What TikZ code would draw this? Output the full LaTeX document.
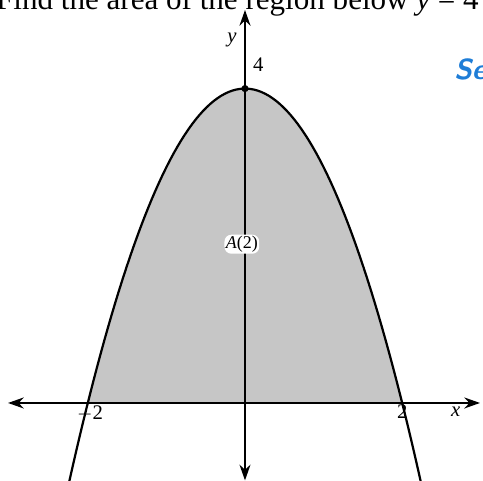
\documentclass[tikz,border=0pt]{standalone}
\usepackage{fontspec}
\setmainfont{Liberation Serif}
\usetikzlibrary{arrows.meta, positioning}
\definecolor{inkblue}{RGB}{30,125,215}
\tikzset{
	axis/.style={line width=1.3pt, {Stealth[length=4mm, width=2.8mm]}-{Stealth[length=4mm, width=2.8mm]}},
	curve/.style={line width=1.6pt},
	region/.style={fill=gray!45},
	lbl/.style={font=\fontsize{15}{15}\selectfont, inner sep=1pt},
	title/.style={font=\fontsize{22.5}{22.5}\selectfont, inner sep=0pt, anchor=base west}
}

\begin{document}
\begin{tikzpicture}[x=2cm, y=2cm]
        \clip (-3.117,-0.980) rectangle (3.028,5.127);

        % shaded region under the parabola
        \fill[region] plot[domain=-2:2, samples=80] (\x,{4-\x*\x}) -- cycle;

        \coordinate (xl) at (-3.015,0);
        \coordinate (xr) at (2.99,0);
        \coordinate (yb) at (0,-0.985);
        \coordinate (yt) at (0,5.0);
        \draw[axis] (xl) -- (xr);
        \draw[axis] (yb) -- (yt);

        \draw[curve] plot[domain=-2.3:2.3, samples=100] (\x,{4-\x*\x});
        \fill (0,4) circle (2.6pt);

        \node[lbl] (ylab) at (-0.165,4.62) {\textit{y}};
        \node[lbl] (four) at (0.17,4.30) {4};
        \node[lbl] (xlab) at (2.68,-0.11) {\textit{x}};
        \node[lbl] (mtwo) at (-1.97,-0.13) {$-$2};
        \node[lbl] (two) at (2.0,-0.11) {2};
        \node[lbl, font=\fontsize{13}{13}\selectfont, fill=white, rounded corners=5pt] (area) at (-0.04,2.02) {\textit{A}(2)};

        \node[title] (task) at (-3.17,5.01) {Find the area of the region below \textit{y} = 4 $-$};
        \node[font=\sffamily\itshape\bfseries\fontsize{21}{21}\selectfont, text=inkblue, anchor=west, inner sep=0pt] (note) at (2.66,4.24) {Se};
\end{tikzpicture}
\end{document}
